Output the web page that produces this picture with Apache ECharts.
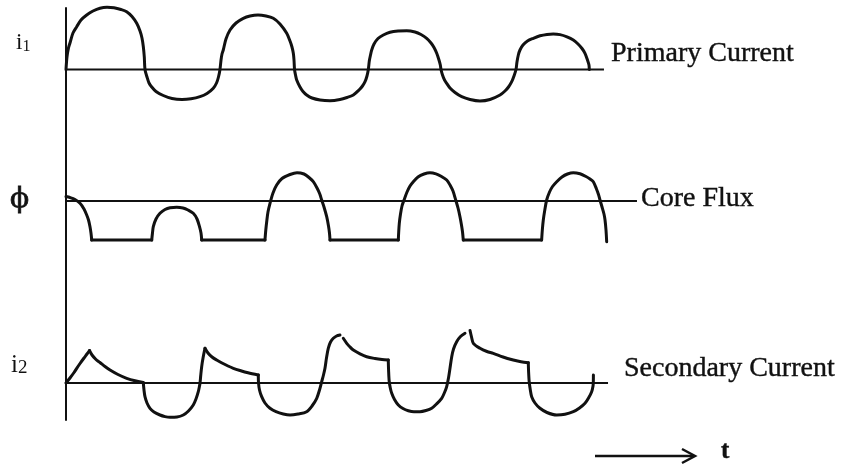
<!DOCTYPE html>
<html><head><meta charset="utf-8">
<script src="https://cdn.jsdelivr.net/npm/echarts@6/dist/echarts.min.js"></script>
<style>html,body{margin:0;padding:0;background:#fff}#c{width:849px;height:471px}</style>
</head><body><div id="c"></div><script>
// time in ms (50 Hz, one period = 20 ms); values in arbitrary units (1 = 0.1 of a nominal scale)
const primaryCurrent = [
[0,0],[0.13,1.25],[0.33,2.15],[0.53,2.65],[0.93,3.65],[1.43,4.28],[2.0,4.95],[2.76,5.45],[3.6,5.85],[4.53,6.13],[5.47,6.22],[6.4,6.17],[7.33,6.0],[8.09,5.78],[8.8,5.3],[9.43,4.62],[9.87,3.85],[10.13,3.15],[10.31,2.28],[10.44,1.25],[10.53,0],
[10.8,-0.75],[11.07,-1.35],[11.43,-1.75],[12.0,-2.2],[12.97,-2.6],[14.13,-2.9],[15.47,-3.0],[16.67,-2.93],[17.87,-2.72],[18.8,-2.4],[19.64,-1.88],[20.07,-1.35],[20.33,-0.75],[20.53,0],
[20.67,0.95],[20.8,1.55],[20.97,1.95],[21.33,3.05],[21.87,3.95],[22.67,4.65],[23.64,5.12],[24.53,5.35],[25.6,5.45],[26.67,5.35],[27.64,5.12],[28.53,4.55],[29.43,3.62],[29.87,2.85],[30.13,2.25],[30.31,1.62],[30.4,0.95],[30.47,0],
[30.6,-0.55],[30.76,-1.05],[31.2,-1.75],[31.6,-2.2],[32.09,-2.55],[32.8,-2.85],[33.87,-3.05],[35.2,-3.12],[36.53,-3.0],[37.47,-2.8],[38.31,-2.55],[39.07,-2.05],[39.53,-1.65],[39.87,-1.22],[40.13,-0.65],[40.31,0],
[40.44,0.85],[40.6,1.45],[40.76,1.95],[41.07,2.55],[41.6,3.1],[42.31,3.45],[43.2,3.72],[44.27,3.85],[45.43,3.88],[46.53,3.75],[47.33,3.5],[48.09,3.12],[48.67,2.65],[49.07,2.2],[49.43,1.62],[49.73,0.95],[49.91,0.45],[50,0],
[50.2,-0.55],[50.47,-1.05],[50.76,-1.38],[51.2,-1.85],[51.87,-2.3],[52.76,-2.72],[53.87,-3.0],[55.2,-3.15],[56.53,-3.0],[57.87,-2.55],[58.53,-2.15],[59.0,-1.75],[59.43,-1.22],[59.73,-0.65],[60,0],
[60.13,0.75],[60.31,1.45],[60.53,1.95],[60.93,2.45],[61.53,2.85],[62.31,3.12],[63.2,3.37],[64.13,3.51],[64.97,3.55],[65.87,3.49],[66.8,3.27],[67.64,2.95],[68.27,2.55],[68.8,2.1],[69.2,1.62],[69.53,0.95],[69.73,0.45],[69.77,0]
];
const coreFluxSegments = [
 [[0,0.45],[0.53,0.35],[1.2,0.15],[1.87,-0.23],[2.4,-0.8],[2.76,-1.4],[3.0,-1.9],[3.2,-2.57],[3.33,-3.2],[3.43,-3.9]],
 [[3.43,-3.9],[11.43,-3.9]],
 [[11.43,-3.9],[11.53,-3.2],[11.64,-2.57],[12.0,-1.8],[12.53,-1.23],[13.2,-0.85],[13.87,-0.67],[14.76,-0.63],[15.6,-0.7],[16.27,-0.9],[16.97,-1.23],[17.47,-1.8],[17.8,-2.57],[18.0,-3.2],[18.09,-3.9]],
 [[18.09,-3.9],[26.53,-3.9]],
 [[26.53,-3.9],[26.64,-2.9],[26.76,-2.07],[26.93,-1.1],[27.2,-0.23],[27.6,0.8],[28.09,1.6],[28.8,2.25],[29.87,2.65],[30.8,2.83],[31.73,2.7],[32.4,2.35],[32.97,1.93],[33.47,1.3],[33.84,0.7],[34.09,0.1],[34.4,-0.6],[34.76,-1.57],[35.0,-2.5],[35.13,-3.2],[35.2,-3.9]],
 [[35.2,-3.9],[44.31,-3.9]],
 [[44.31,-3.9],[44.36,-3.1],[44.44,-2.23],[44.6,-1.3],[44.8,-0.5],[45.07,0.1],[45.47,0.9],[45.87,1.5],[46.31,1.93],[46.93,2.4],[47.73,2.7],[48.53,2.83],[49.33,2.72],[50.07,2.45],[50.76,2.1],[51.2,1.6],[51.6,1.0],[51.96,0.1],[52.27,-0.7],[52.53,-1.57],[52.73,-2.4],[52.87,-3.1],[52.97,-3.9]],
 [[52.97,-3.9],[63.42,-3.9]],
 [[63.42,-3.9],[63.51,-2.9],[63.64,-1.9],[63.84,-0.9],[64.09,0.1],[64.47,0.9],[64.87,1.45],[65.43,1.93],[66.13,2.4],[66.87,2.7],[67.64,2.83],[68.53,2.72],[69.33,2.45],[69.87,2.2],[70.31,1.93],[70.73,1.2],[71.0,0.65],[71.2,0.1],[71.47,-0.6],[71.73,-1.3],[71.87,-1.9],[72.0,-2.9],[72.09,-4.07]]
];
const secondaryCurrentSegments = [
 [[0,0],[0.53,0.5],[1.07,1.05],[1.43,1.47],[1.87,1.95],[2.4,2.5],[2.8,2.9],[3.13,3.25]],
 [[3.13,3.25],[3.47,2.8],[4.0,2.35],[4.53,2.05],[5.2,1.65],[5.87,1.3],[6.93,0.85],[8.09,0.47],[9.2,0.22],[10.31,0.05]],
 [[10.31,0],[10.4,-0.7],[10.53,-1.37],[10.8,-2.0],[11.2,-2.53],[11.73,-2.9],[12.53,-3.2],[13.2,-3.36],[13.87,-3.43],[14.8,-3.4],[15.64,-3.2],[16.33,-2.8],[16.97,-2.2],[17.33,-1.6],[17.64,-0.87],[17.8,-0.3],[17.87,0],[17.97,0.8],[18.09,1.63],[18.27,2.5],[18.53,3.47]],
 [[18.53,3.47],[18.93,3.0],[19.47,2.6],[20.09,2.3],[20.8,2.0],[21.6,1.7],[22.31,1.47],[23.2,1.25],[24.27,1.02],[25.64,0.8]],
 [[25.64,0.8],[25.67,0.0],[25.8,-0.7],[26.09,-1.37],[26.53,-2.0],[27.2,-2.53],[28.0,-2.87],[28.97,-3.1],[29.87,-3.2],[30.93,-3.1],[32.09,-2.87],[32.8,-2.3],[33.43,-1.53],[33.8,-0.7],[34.09,0.13],[34.33,0.8],[34.53,1.47],[34.73,2.5],[34.97,3.47],[35.27,4.1],[35.64,4.47],[36.07,4.7],[36.53,4.8]],
 [[36.97,4.47],[37.43,3.97],[37.87,3.6],[38.31,3.3],[39.2,2.92],[40.09,2.63],[41.2,2.45],[42.13,2.35],[42.97,2.3]],
 [[42.97,2.3],[43.01,1.3],[43.09,0.2],[43.24,-0.5],[43.43,-1.03],[43.8,-1.65],[44.31,-2.2],[44.93,-2.55],[45.64,-2.77],[46.4,-2.87],[47.2,-2.87],[48.0,-2.75],[48.76,-2.53],[49.4,-2.1],[50.09,-1.53],[50.47,-0.95],[50.76,-0.37],[51.0,0.5],[51.2,1.47],[51.43,2.63],[51.67,3.4],[52.09,4.13],[52.6,4.65],[53.2,4.97]],
 [[53.87,5.25],[54.07,4.6],[54.31,3.97],[55.2,3.47],[56.13,3.15],[56.97,2.97],[58.27,2.6],[59.64,2.3],[60.67,2.12],[61.64,2.03]],
 [[61.64,2.03],[61.68,1.1],[61.76,0.13],[61.91,-0.7],[62.09,-1.37],[62.53,-2.0],[63.2,-2.53],[64.13,-2.95],[65.43,-3.2],[66.53,-3.13],[67.64,-2.87],[68.47,-2.5],[69.2,-2.03],[69.67,-1.5],[70.09,-0.87],[70.27,-0.3],[70.31,0.13],[70.32,0.8]]
];
const baselineEnds = [71.73, 76.13, 72.27];
const traceNames = ['Primary Current', 'Core Flux', 'Secondary Current'];
const axisSymbols = ['i', 'ϕ', 'i'];
const axisSubscripts = ['1', '', '2'];
const timeLabel = 't';

const INK = '#111';
const SERIF = '"Liberation Serif","Times New Roman",serif';
const chart = echarts.init(document.getElementById('c'), null, {renderer:'canvas'});
const waves = [[primaryCurrent], coreFluxSegments, secondaryCurrentSegments];
const series = [];
waves.forEach((segs,i)=>{
  series.push({type:'line', xAxisIndex:i, yAxisIndex:i, data:[[0,0],[baselineEnds[i],0]],
    symbol:'none', lineStyle:{color:INK,width:2}, clip:false, silent:true});
  segs.forEach(d=>{
    series.push({type:'line', xAxisIndex:i, yAxisIndex:i, data:d, smooth:0.3,
      symbol:'none', lineStyle:{color:INK,width:3, cap:'round', join:'round'}, clip:false, silent:true});
  });
});
const txt = (t,x,y,size,extra)=>({type:'text', x:x, y:y, style:Object.assign({text:t, fontSize:size, fontFamily:SERIF, fill:INK, stroke:INK, lineWidth:0.4, textVerticalAlign:'middle'}, extra||{})});
const symLabel = (i,x,y,a,s)=>({type:'text', x:x, y:y, style:{text:'{a|'+axisSymbols[i]+'}{s|'+axisSubscripts[i]+'}', fill:INK, textVerticalAlign:'middle',
      rich:{a:{fontSize:a, fontFamily:SERIF, fill:INK}, s:{fontSize:s, fontFamily:SERIF, fill:INK, verticalAlign:'bottom', padding:[6,0,0,0]}}}});
chart.setOption({
  animation:false,
  grid:[
    {left:66, top:9.5, width:600, height:120},
    {left:66, top:141, width:600, height:120},
    {left:66, top:323, width:600, height:120},
    {left:66, top:8, width:600, height:412}
  ],
  xAxis:[0,1,2,3].map(i=>({type:'value', gridIndex:i, min:0, max:80, show:false})),
  yAxis:[0,1,2].map(i=>({type:'value', gridIndex:i, min:-6, max:6, show:false})).concat([
    {type:'value', gridIndex:3, min:0, max:1, axisLine:{show:true, lineStyle:{color:INK,width:2}},
     axisTick:{show:false}, axisLabel:{show:false}, splitLine:{show:false}}
  ]),
  series: series,
  graphic:[
    txt(traceNames[0], 611, 54, 28),
    txt(traceNames[1], 641, 199, 28),
    txt(traceNames[2], 624, 369, 28),
    symLabel(0, 16, 43, 23, 16),
    txt(axisSymbols[1], 10, 200, 28, {fontFamily:'"DejaVu Serif",serif', lineWidth:0.8}),
    symLabel(2, 11, 365, 25, 19),
    {type:'line', shape:{x1:595, y1:456, x2:694, y2:456}, style:{stroke:INK, lineWidth:2.5}},
    {type:'polyline', shape:{points:[[682,449],[695,456],[682,463]]}, style:{stroke:INK, lineWidth:2.5, fill:null}},
    txt(timeLabel, 721, 452, 25, {fontWeight:'bold'})
  ]
});
</script></body></html>
